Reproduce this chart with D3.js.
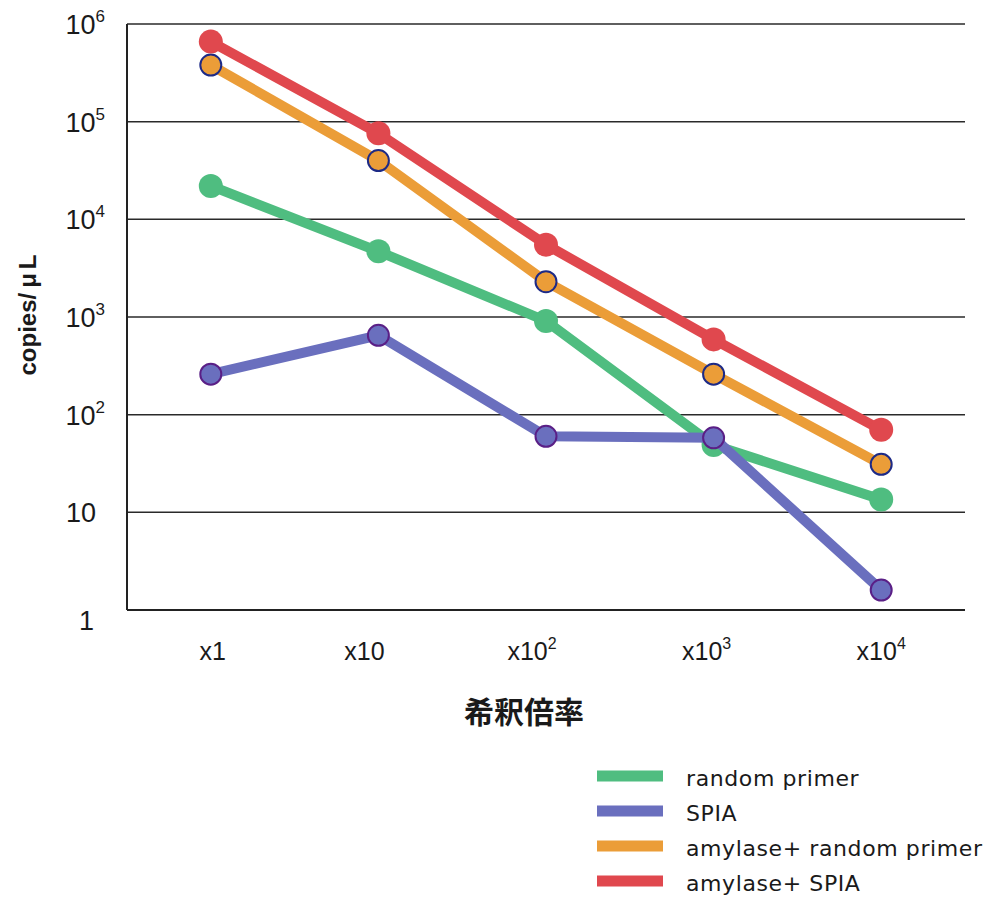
<!DOCTYPE html>
<html>
<head>
<meta charset="utf-8">
<script src="https://cdn.jsdelivr.net/npm/d3@7"></script>
<style>
  html, body { margin: 0; padding: 0; background: #fff; }
  svg { display: block; }
</style>
</head>
<body>
<svg id="chart" width="988" height="899"></svg>
<script>
// Dilution steps (x axis)
const categories = ["x1", "x10", "x10²", "x10³", "x10⁴"];
const categoryBase = ["x1", "x10", "x10", "x10", "x10"];
const categorySup = ["", "", "2", "3", "4"];

// copies/μL for each method
const randomPrimer = [22000, 4700, 910, 49, 13.5];
const spia = [260, 650, 60, 58, 1.6];
const amylaseRandom = [380000, 40000, 2300, 260, 31];
const amylaseSpia = [660000, 76000, 5500, 590, 70];

const seriesNames = ["random primer", "SPIA", "amylase+ random primer", "amylase+ SPIA"];
const seriesValues = [randomPrimer, spia, amylaseRandom, amylaseSpia];
const seriesColors = ["#4fbd80", "#6a6fbe", "#eb9d38", "#e0484e"];
const markerStroke = [null, "#5a1f86", "#1d2a86", null];

// y ticks: exponent labels
const yTicks = [1, 10, 100, 1000, 10000, 100000, 1000000];
const yTickBase = ["1", "10", "10", "10", "10", "10", "10"];
const yTickSup = ["", "", "2", "3", "4", "5", "6"];

const svg = d3.select("#chart");
const plotLeft = 127, plotRight = 965, plotTop = 24, plotBottom = 610;

const x = d3.scaleBand().domain(categories).range([plotLeft, plotRight]);
const y = d3.scaleLog().domain([1, 1e6]).range([plotBottom, plotTop]);

// horizontal grid lines
svg.append("g").selectAll("line").data(yTicks.slice(1)).join("line")
  .attr("x1", plotLeft).attr("x2", plotRight)
  .attr("y1", d => y(d)).attr("y2", d => y(d))
  .attr("stroke", "#2a2a2a").attr("stroke-width", 1.5);

// left and bottom axis lines
svg.append("line").attr("x1", plotLeft).attr("x2", plotLeft).attr("y1", plotTop).attr("y2", plotBottom)
  .attr("stroke", "#222").attr("stroke-width", 2);
svg.append("line").attr("x1", plotLeft).attr("x2", plotRight).attr("y1", plotBottom).attr("y2", plotBottom)
  .attr("stroke", "#222").attr("stroke-width", 2);

// y tick labels
const yl = svg.append("g").selectAll("text").data(yTicks).join("text")
  .attr("x", 105).attr("y", d => y(d) + 10)
  .attr("text-anchor", "end")
  .attr("font-family", "Liberation Sans, Arial, sans-serif")
  .attr("font-size", 27).attr("fill", "#1a1a1a");
yl.each(function(d, i) {
  const t = d3.select(this);
  if (yTickSup[i]) {
    t.append("tspan").text(yTickBase[i]);
    t.append("tspan").text(yTickSup[i]).attr("font-size", 17).attr("dy", -12);
  } else if (i === 0) {
    t.text(yTickBase[i]).attr("x", 94).attr("y", y(d) + 20);
  } else {
    t.text(yTickBase[i]).attr("x", 96);
  }
});

// x tick labels (small per-label horizontal nudges)
const xLabelNudge = [2, -14, -14, -7, 0];
const xl = svg.append("g").selectAll("text").data(categories).join("text")
  .attr("x", (d, i) => x(d) + x.bandwidth() / 2 + xLabelNudge[i]).attr("y", 660)
  .attr("text-anchor", "middle")
  .attr("font-family", "Liberation Sans, Arial, sans-serif")
  .attr("font-size", 25).attr("fill", "#1a1a1a");
xl.each(function(d, i) {
  const t = d3.select(this);
  t.append("tspan").text(categoryBase[i]);
  if (categorySup[i]) t.append("tspan").text(categorySup[i]).attr("font-size", 16).attr("dy", -11);
});

// axis titles
const yTitle = svg.append("text").attr("transform", "translate(36,315) rotate(-90)")
  .attr("text-anchor", "middle")
  .attr("font-family", "Liberation Sans, Arial, sans-serif")
  .attr("font-size", 24).attr("font-weight", "bold").attr("fill", "#1a1a1a");
yTitle.append("tspan").text("copies/");
yTitle.append("tspan").text("μ").attr("dx", 5);
yTitle.append("tspan").text("L").attr("dx", 4);

svg.append("text").attr("x", 524).attr("y", 723)
  .attr("text-anchor", "middle")
  .attr("font-family", "Noto Sans CJK JP, sans-serif")
  .attr("font-size", 30).attr("font-weight", "bold").attr("fill", "#1a1a1a")
  .text("希釈倍率");

// series lines and markers
const line = d3.line()
  .x((d, i) => x(categories[i]) + x.bandwidth() / 2)
  .y(d => y(d));

seriesValues.forEach((vals, s) => {
  const g = svg.append("g");
  g.append("path").datum(vals).attr("d", line)
    .attr("fill", "none").attr("stroke", seriesColors[s])
    .attr("stroke-width", 10).attr("stroke-linejoin", "round");
  g.selectAll("circle").data(vals).join("circle")
    .attr("cx", (d, i) => x(categories[i]) + x.bandwidth() / 2)
    .attr("cy", d => y(d))
    .attr("r", markerStroke[s] ? 10.5 : 12)
    .attr("fill", seriesColors[s])
    .attr("stroke", markerStroke[s] || "none")
    .attr("stroke-width", markerStroke[s] ? 2 : 0);
});

// legend
const legend = svg.append("g").selectAll("g").data(seriesNames).join("g")
  .attr("transform", (d, i) => `translate(597,${776 + i * 35})`);
legend.append("rect").attr("x", 0).attr("y", -5.5).attr("width", 66).attr("height", 11)
  .attr("fill", (d, i) => seriesColors[i]);
legend.append("text").attr("x", 89).attr("y", 10)
  .attr("font-family", "DejaVu Sans, sans-serif")
  .attr("font-size", 22).attr("letter-spacing", 0.6).attr("fill", "#1a1a1a")
  .text(d => d);
</script>
</body>
</html>
